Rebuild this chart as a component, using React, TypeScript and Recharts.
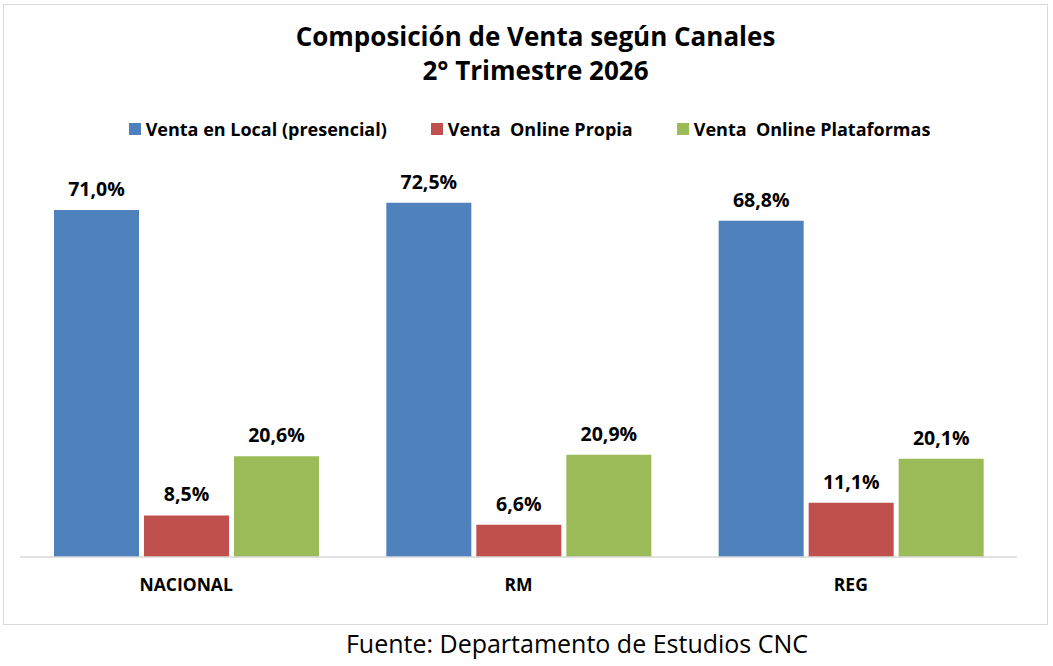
import { BarChart, Bar, XAxis, YAxis, LabelList } from "recharts"

const categories = ["NACIONAL", "RM", "REG"]
const ventaLocal = [71.0, 72.5, 68.8]
const ventaOnlinePropia = [8.5, 6.6, 11.1]
const ventaPlataformas = [20.6, 20.9, 20.1]

const seriesDefs = [
  { key: "local", name: "Venta en Local (presencial)", color: "#4F81BD", values: ventaLocal },
  { key: "propia", name: "Venta  Online Propia", color: "#C0504D", values: ventaOnlinePropia },
  { key: "plat", name: "Venta  Online Plataformas", color: "#9BBB59", values: ventaPlataformas },
]

const rows = categories.map((c, i) => {
  const r: any = { cat: c }
  seriesDefs.forEach((s) => (r[s.key] = s.values[i]))
  return r
})

const FONT = "'Open Sans', sans-serif"

const fmt = (v: any) => `${Number(v).toFixed(1).replace(".", ",")}%`

function LegendRow() {
  return (
    <div
      style={{
        position: "absolute",
        left: 4,
        width: 1043,
        top: 112,
        display: "flex",
        justifyContent: "center",
        gap: 44,
        fontFamily: FONT,
        fontWeight: 700,
        fontSize: 18,
        color: "#000",
      }}
    >
      {seriesDefs.map((s) => (
        <div key={s.key} style={{ display: "flex", alignItems: "center", whiteSpace: "pre" }}>
          <span style={{ width: 12, height: 12, background: s.color, display: "inline-block", marginRight: 5 }} />
          {s.name}
        </div>
      ))}
    </div>
  )
}

export default function App() {
  return (
    <div style={{ position: "absolute", left: 0, top: 0, width: 1053, height: 666, background: "#fff", fontFamily: FONT }}>
      <div
        style={{
          position: "absolute",
          left: 3,
          top: 4,
          width: 1043,
          height: 619,
          border: "1.5px solid #d9d9d9",
        }}
      >
        <div style={{ position: "absolute", left: 20, right: 0, top: 14, textAlign: "center", fontWeight: 700, fontSize: 26, lineHeight: "34px", color: "#000" }}>
          Composición de Venta según Canales
          <br />
          2° Trimestre 2026
        </div>
        <LegendRow />
        <BarChart
          width={1043}
          height={619}
          data={rows}
          margin={{ top: 161, right: 30, bottom: 27, left: 16 }}
          barCategoryGap={34}
          barGap={5}
        >
          <XAxis
            dataKey="cat"
            axisLine={{ stroke: "#d9d9d9", strokeWidth: 1.5 }}
            tickLine={false}
            height={40}
            tickMargin={16}
            tick={{ fill: "#000", fontSize: 17.5, fontWeight: 700, fontFamily: FONT }}
          />
          <YAxis hide domain={[0, 80]} />
          {seriesDefs.map((s) => (
            <Bar key={s.key} dataKey={s.key} name={s.name} fill={s.color} isAnimationActive={false}>
              <LabelList
                dataKey={s.key}
                position="top"
                offset={14}
                formatter={fmt}
                style={{ fill: "#000", fontSize: 19.5, fontWeight: 700, fontFamily: FONT }}
              />
            </Bar>
          ))}
        </BarChart>
      </div>
      <div style={{ position: "absolute", left: 100, width: 954, top: 626, textAlign: "center", fontSize: 25, color: "#000", fontFamily: FONT }}>
        Fuente: Departamento de Estudios CNC
      </div>
    </div>
  )
}
